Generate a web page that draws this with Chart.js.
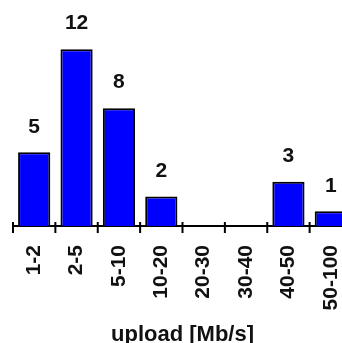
<!DOCTYPE html>
<html>
<head>
<meta charset="utf-8">
<script src="https://cdn.jsdelivr.net/npm/chart.js@4.4.1/dist/chart.umd.min.js"></script>
<style>
  html, body { margin: 0; padding: 0; background: #fff; overflow: hidden; }
  #wrap { width: 342px; height: 343px; overflow: hidden; position: relative; }
  #uploadChart { position: absolute; left: 0; top: 0; }
</style>
</head>
<body>
<div id="wrap"><canvas id="uploadChart" width="354" height="343"></canvas></div>
<script>
// upload speed histogram

const categories = ['1-2', '2-5', '5-10', '10-20', '20-30', '30-40', '40-50', '50-100'];
const counts = [5, 12, 8, 2, 0, 0, 3, 1];
const axisTitle = 'upload [Mb/s]';

// value labels above each bar
const valueLabels = {
    id: 'valueLabels',
    afterDatasetsDraw(chart) {
        const ctx = chart.ctx;
        const meta = chart.getDatasetMeta(0);
        ctx.save();
        ctx.font = 'bold 21px "Liberation Sans", Arial, sans-serif';
        ctx.fillStyle = '#111';
        ctx.textAlign = 'center';
        ctx.textBaseline = 'bottom';
        meta.data.forEach((bar, i) => {
            if (!counts[i]) return;
            ctx.fillText(String(counts[i]), bar.x, bar.y - 15);
        });
        ctx.restore();
    }
};

// tick marks at category edges, crossing the axis line
const edgeTicks = {
    id: 'edgeTicks',
    afterDraw(chart) {
        const ctx = chart.ctx;
        const xs = chart.scales.x;
        const y = chart.chartArea.bottom;
        const half = (xs.getPixelForValue(1) - xs.getPixelForValue(0)) / 2;
        ctx.save();
        ctx.strokeStyle = '#000';
        ctx.lineWidth = 2;
        for (let i = 0; i <= categories.length; i++) {
            const x = xs.getPixelForValue(i) - half;
            ctx.beginPath();
            ctx.moveTo(x, y - 4);
            ctx.lineTo(x, y + 7);
            ctx.stroke();
        }
        ctx.restore();
    }
};

var chart = new Chart(document.getElementById('uploadChart'), {
    type: 'bar',
    data: {
        labels: categories,
        datasets: [{
            data: counts,
            backgroundColor: '#0000ff',
            borderColor: '#000',
            borderWidth: 2,
            borderSkipped: 'bottom',
            categoryPercentage: 1,
            barPercentage: 0.76,
        }]
    },
    options: {
        responsive: false,
        animation: false,
        layout: { padding: { left: 13, right: 2, top: 5, bottom: 0 } },
        plugins: {
            legend: { display: false },
            tooltip: { enabled: false },
        },
        scales: {
            x: {
                offset: true,
                grid: { display: false },
                border: { display: true, color: '#000', width: 2 },
                ticks: {
                    color: '#111',
                    font: { family: '"Liberation Sans", Arial, sans-serif', size: 21, weight: 'bold' },
                    minRotation: 90,
                    maxRotation: 90,
                    autoSkip: false,
                    padding: 11,
                },
                title: {
                    display: true,
                    text: axisTitle,
                    color: '#111',
                    font: { family: '"Liberation Sans", Arial, sans-serif', size: 22, weight: 'bold', lineHeight: 1 },
                    padding: { top: 0, bottom: -3 },
                },
                afterFit: (scale) => {
                    scale.height = 117;
                    scale.paddingLeft = 0;
                    scale.paddingRight = 0;
                },
            },
            y: {
                display: false,
                min: 0,
                max: 15,
            }
        }
    },
    plugins: [valueLabels, edgeTicks]
});
</script>
</body>
</html>
